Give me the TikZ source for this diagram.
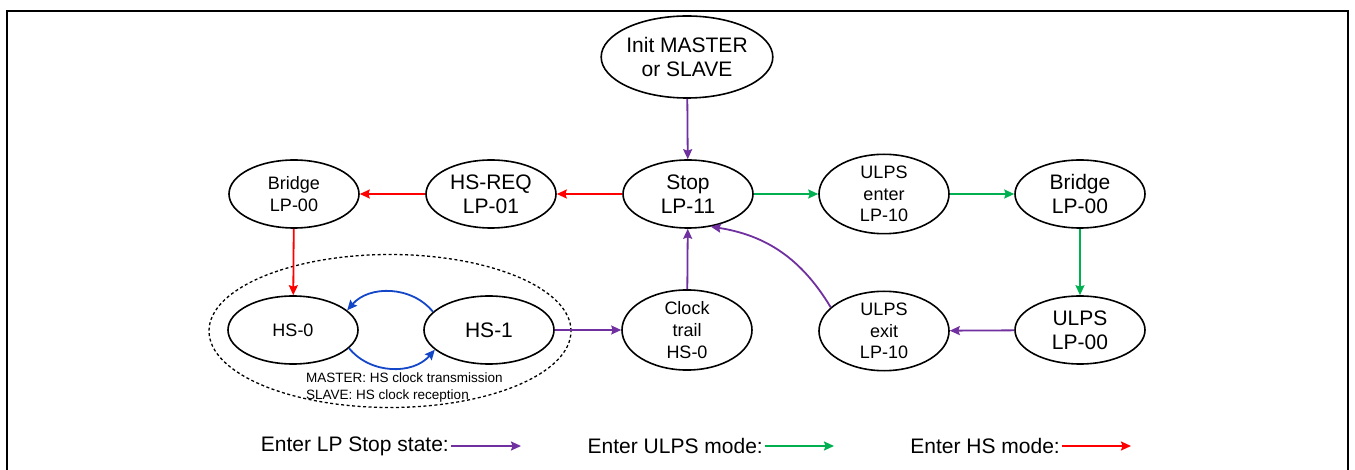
\documentclass[tikz,border=0pt]{standalone}
\usepackage{fontspec}
\setmainfont{Liberation Sans}
\usetikzlibrary{arrows.meta,shapes.geometric}
\definecolor{lpp}{RGB}{112,48,160}
\definecolor{ulg}{RGB}{0,176,80}
\definecolor{hsr}{RGB}{255,0,0}
\definecolor{loopb}{RGB}{20,70,200}
\begin{document}
\begin{tikzpicture}[x=1pt,y=-1pt,
  st/.style={ellipse,draw,line width=1.6pt,minimum width=130pt,minimum height=68pt,inner sep=0pt,align=center,font=\fontsize{21}{24}\selectfont},
  stm/.style={st,font=\fontsize{18}{22}\selectfont},
  sts/.style={st,font=\fontsize{18}{21.7}\selectfont},
  tip/.style={-{Stealth[length=10pt,width=9pt,inset=1.5pt]},line width=1.8pt},
  lparrow/.style={tip,draw=lpp},
  ularrow/.style={tip,draw=ulg},
  hsarrow/.style={tip,draw=hsr},
  looparrow/.style={tip,draw=loopb},
  legtext/.style={anchor=east,inner sep=0pt,font=\fontsize{21}{24}\selectfont}
]
\useasboundingbox (0,0) rectangle (1355,470);
\draw[line width=2pt] (6.5,470) -- (6.5,11.5) -- (1347.5,11.5) -- (1347.5,470);

% group ellipse
\node (grp) [ellipse,draw,dash pattern=on 3pt off 2.5pt,line width=1.3pt,minimum width=362pt,minimum height=153pt,inner sep=0pt] at (390,331) {};
\node (cap) [anchor=west,inner sep=0pt,align=left,font=\fontsize{13.5}{16.7}\selectfont] at (306,387.5) {MASTER: HS clock transmission\\SLAVE: HS clock reception};

% states
\node (init) [st,minimum width=160pt,minimum height=82pt] at (687,57) {Init MASTER\\or SLAVE};
\node (stop) [st] at (688,194) {Stop\\LP-11};
\node (hsreq) [st] at (491,194) {HS-REQ\\LP-01};
\node (bridgeL) [stm] at (294,194) {Bridge\\LP-00};
\node (ulpsen) [sts] at (884,194) {ULPS\\enter\\LP-10};
\node (bridgeR) [st] at (1080,194) {Bridge\\LP-00};
\node (hs0) [stm] at (293,330) {HS-0};
\node (hs1) [st] at (489,330) {HS-1};
\node (clk) [sts] at (687,330) {Clock\\trail\\HS-0};
\node (ulpsex) [sts] at (884,331) {ULPS\\exit\\LP-10};
\node (ulps) [st] at (1080,330) {ULPS\\LP-00};

% transitions
\draw[lparrow] (init) -- (stop);
\draw[hsarrow] (stop) -- (hsreq);
\draw[hsarrow] (hsreq) -- (bridgeL);
\draw[hsarrow] (bridgeL) -- (hs0);
\draw[looparrow] (hs1.162) to[bend right=50] (hs0.20);
\draw[looparrow] (hs0.-18) to[bend right=50] (hs1.200);
\draw[lparrow] (hs1) -- (clk);
\draw[lparrow] (clk) -- (stop);
\draw[lparrow] (ulpsex.156) to[bend right=25] (stop.-55);
\draw[ularrow] (stop) -- (ulpsen);
\draw[ularrow] (ulpsen) -- (bridgeR);
\draw[ularrow] (bridgeR) -- (ulps);
\draw[lparrow] (ulps) -- (ulpsex);

% legend
\node (leg1) [legtext] at (449,446) {Enter LP Stop state:};
\coordinate (leg1e) at (521,446);
\draw[lparrow] (leg1.east) ++(2,0) coordinate (leg1s) (leg1s) -- (leg1e);
\node (leg2) [legtext] at (763,446) {Enter ULPS mode:};
\coordinate (leg2e) at (834,446);
\draw[ularrow] (leg2.east) ++(2,0) coordinate (leg2s) (leg2s) -- (leg2e);
\node (leg3) [legtext] at (1060,446) {Enter HS mode:};
\coordinate (leg3e) at (1131,446);
\draw[hsarrow] (leg3.east) ++(2,0) coordinate (leg3s) (leg3s) -- (leg3e);
\end{tikzpicture}
\end{document}
